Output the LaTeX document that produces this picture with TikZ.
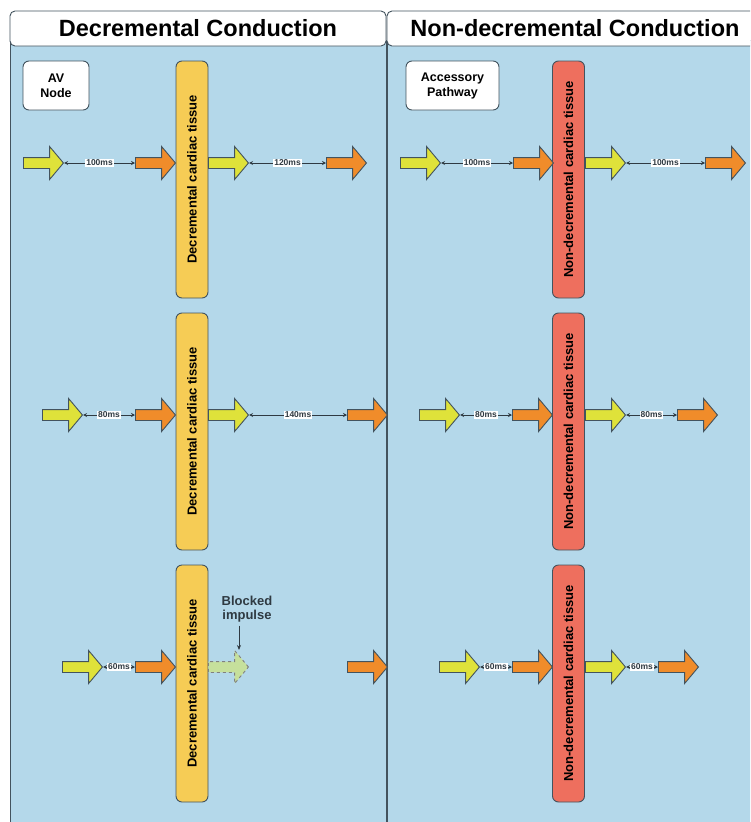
\documentclass[tikz,border=0pt]{standalone}
\usepackage{fontspec}
\setmainfont{Liberation Sans}
\usetikzlibrary{shapes.arrows,arrows.meta}

\definecolor{panelblue}{HTML}{B4D8EA}
\definecolor{lineslate}{HTML}{43535E}
\definecolor{impulseyellow}{HTML}{DFE23A}
\definecolor{impulseorange}{HTML}{F08C2A}
\definecolor{tissueyellow}{HTML}{F6CC55}
\definecolor{tissuered}{HTML}{EE6F5E}
\definecolor{blockgreen}{HTML}{C6E09C}

\tikzset{
  header/.style={draw=lineslate, fill=white, line width=0.9pt, rounded corners=5pt,
    minimum width=376pt, minimum height=35pt, font=\fontsize{23.5}{26}\selectfont\bfseries},
  tag/.style={draw=lineslate, fill=white, line width=0.9pt, rounded corners=6pt,
    minimum height=49pt, align=center, font=\fontsize{12.5}{15}\selectfont\bfseries},
  tissue/.style={draw=lineslate, line width=0.9pt, rounded corners=6pt, rotate=90,
    minimum width=237pt, minimum height=32pt, font=\fontsize{13}{15}\selectfont\bfseries},
  impulse/.style={single arrow, draw=lineslate, line width=0.9pt, inner sep=5pt,
    single arrow head extend=11pt, single arrow tip angle=100, minimum height=40pt, anchor=tail},
  inimp/.style={impulse, fill=impulseyellow},
  outimp/.style={impulse, fill=impulseorange},
  span/.style={draw=lineslate!70!black, line width=0.8pt,
    {Stealth[length=4pt,width=4pt]}-{Stealth[length=4pt,width=4pt]}},
  ms/.style={fill=white, inner sep=1pt, text=lineslate!70!black,
    font=\fontsize{8.5}{9}\selectfont\bfseries}
}

\begin{document}
\begin{tikzpicture}[x=1pt, y=-1pt]
  \useasboundingbox (0,0) rectangle (750,822);
  \clip (0,0) rectangle (750,822);
  \fill[white] (0,0) rectangle (750,822);

  % panels
  \filldraw[fill=panelblue, draw=lineslate, line width=0.9pt] (10,40) rectangle (386,830);
  \filldraw[fill=panelblue, draw=lineslate, line width=0.9pt] (387,40) rectangle (763,830);
  \node[header] (dhead) at (198,28.5) {Decremental Conduction};
  \node[header] (nhead) at (575,28.5) {Non-decremental Conduction};

  \node[tag, minimum width=66pt] (av) at (56,85.5) {AV\\Node};
  \node[tag, minimum width=93pt] (ap) at (452.5,85.5) {Accessory\\Pathway};

  % tissue bars
  \foreach \y [count=\i] in {179.5,431.5,683.5} {
    \node[tissue, fill=tissueyellow] (dt\i) at (192,\y) {Decremental cardiac tissue};
    \node[tissue, fill=tissuered] (nt\i) at (568.5,\y) {Non-decremental cardiac tissue};
  }

  % decremental side
  \node[inimp] (a1) at (23,163) {};
  \node[outimp] (b1) at (135,163) {};
  \node[inimp] (c1) at (208,163) {};
  \node[outimp] (d1) at (326,163) {};
  \node[inimp] (a2) at (42,415) {};
  \node[outimp] (b2) at (135,415) {};
  \node[inimp] (c2) at (208,415) {};
  \node[outimp] (d2) at (347,415) {};
  \node[inimp] (a3) at (62,667) {};
  \node[outimp] (b3) at (135,667) {};
  \node[impulse, fill=blockgreen, draw=gray, dashed] (c3) at (208,667) {};
  \node[outimp] (d3) at (347,667) {};

  \draw[span] (a1.tip) -- node[ms] {100ms} (b1.tail);
  \draw[span] (c1.tip) -- node[ms] {120ms} (d1.tail);
  \draw[span] (a2.tip) -- node[ms] {80ms} (b2.tail);
  \draw[span] (c2.tip) -- node[ms] {140ms} (d2.tail);
  \draw[span] (a3.tip) -- node[ms] {60ms} (b3.tail);

  \node[align=center, text=lineslate!70!black, font=\fontsize{13}{14}\selectfont\bfseries]
    (blk) at (247,609) {Blocked\\impulse};
  \coordinate (hit) at (239,650);
  \draw[lineslate!70!black, line width=0.8pt, -{Stealth[length=5pt,width=4pt]}] (blk.south -| hit) -- (hit);

  % non-decremental side
  \node[inimp] (e1) at (400,163) {};
  \node[outimp] (f1) at (513,163) {};
  \node[inimp] (g1) at (585,163) {};
  \node[outimp] (h1) at (705,163) {};
  \node[inimp] (e2) at (419,415) {};
  \node[outimp] (f2) at (512,415) {};
  \node[inimp] (g2) at (585,415) {};
  \node[outimp] (h2) at (677,415) {};
  \node[inimp] (e3) at (439,667) {};
  \node[outimp] (f3) at (512,667) {};
  \node[inimp] (g3) at (585,667) {};
  \node[outimp] (h3) at (658,667) {};

  \draw[span] (e1.tip) -- node[ms] {100ms} (f1.tail);
  \draw[span] (g1.tip) -- node[ms] {100ms} (h1.tail);
  \draw[span] (e2.tip) -- node[ms] {80ms} (f2.tail);
  \draw[span] (g2.tip) -- node[ms] {80ms} (h2.tail);
  \draw[span] (e3.tip) -- node[ms] {60ms} (f3.tail);
  \draw[span] (g3.tip) -- node[ms] {60ms} (h3.tail);
\end{tikzpicture}
\end{document}
